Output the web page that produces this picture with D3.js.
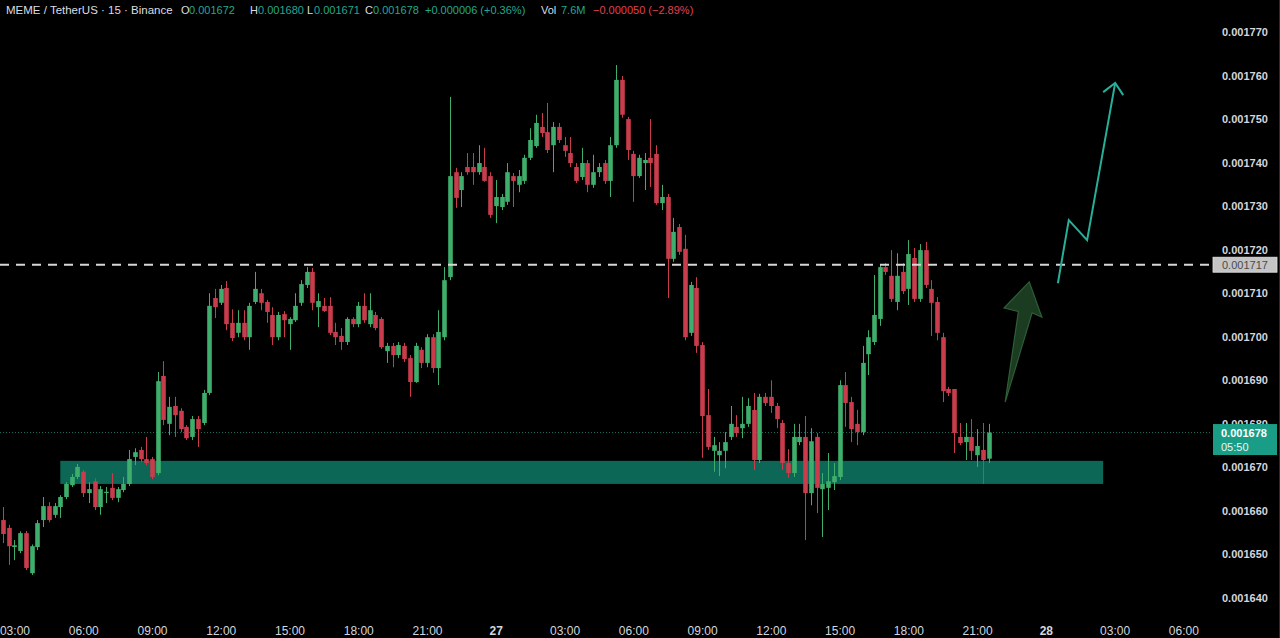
<!DOCTYPE html>
<html><head><meta charset="utf-8">
<script src="https://cdn.jsdelivr.net/npm/d3@7"></script>
<style>html,body{margin:0;padding:0;background:#000;overflow:hidden}svg{display:block}</style>
</head><body><svg id="c" width="1280" height="638"></svg>
<script>
// ---------- DATA ----------
const startTime = Date.UTC(2024, 10, 26, 2, 30); // first 15-min candle
const intervalMs = 15 * 60 * 1000;

const open = [0.0016579,0.0016561,0.0016517,0.0016508,0.0016549,0.0016457,0.0016517,0.0016579,0.0016611,0.0016591,
0.0016609,0.0016632,0.0016659,0.0016678,0.0016690,0.0016641,0.0016668,0.0016609,0.0016641,0.0016653,
0.0016630,0.0016648,0.0016662,0.0016724,0.0016740,0.0016719,0.0016719,0.0016687,0.0016910,0.0016800,
0.0016841,0.0016830,0.0016793,0.0016770,0.0016811,0.0016802,0.0016871,0.0017089,0.0017078,0.0017112,
0.0017032,0.0017009,0.0017032,0.0016999,0.0017080,0.0017100,0.0017080,0.0017050,0.0016999,0.0017052,
0.0017029,0.0017038,0.0017078,0.0017119,0.0017149,0.0017068,0.0017071,0.0017071,0.0017011,0.0017002,
0.0016988,0.0017041,0.0017029,0.0017071,0.0017029,0.0017050,0.0017041,0.0016967,0.0016979,0.0016958,
0.0016979,0.0016951,0.0016896,0.0016970,0.0016940,0.0016999,0.0016928,0.0016999,0.0017137,0.0017378,
0.0017337,0.0017390,0.0017390,0.0017378,0.0017390,0.0017369,0.0017300,0.0017298,0.0017310,0.0017369,
0.0017349,0.0017358,0.0017411,0.0017438,0.0017482,0.0017470,0.0017440,0.0017482,0.0017440,0.0017422,
0.0017390,0.0017367,0.0017399,0.0017349,0.0017378,0.0017399,0.0017358,0.0017440,0.0017590,0.0017500,
0.0017420,0.0017369,0.0017399,0.0017411,0.0017420,0.0017307,0.0017321,0.0017179,0.0017252,0.0017202,
0.0017009,0.0017112,0.0016981,0.0016820,0.0016738,0.0016728,0.0016738,0.0016770,0.0016793,0.0016790,
0.0016800,0.0016832,0.0016717,0.0016862,0.0016862,0.0016841,0.0016802,0.0016710,0.0016687,0.0016758,
0.0016770,0.0016641,0.0016770,0.0016650,0.0016653,0.0016666,0.0016678,0.0016889,0.0016850,0.0016800,
0.0016781,0.0016960,0.0016988,0.0017041,0.0017160,0.0017140,0.0017080,0.0017149,0.0017110,0.0017181,
0.0017087,0.0017199,0.0017110,0.0017080,0.0016999,0.0016880,0.0016880,0.0016770,0.0016758,0.0016770,
0.0016728,0.0016740,0.0016720];

const high = [0.0016609,0.0016568,0.0016533,0.0016553,0.0016554,0.0016523,0.0016579,0.0016632,0.0016620,0.0016618,
0.0016636,0.0016666,0.0016685,0.0016708,0.0016694,0.0016666,0.0016675,0.0016657,0.0016655,0.0016687,
0.0016655,0.0016678,0.0016740,0.0016744,0.0016747,0.0016770,0.0016724,0.0016919,0.0016944,0.0016862,
0.0016862,0.0016836,0.0016797,0.0016818,0.0016818,0.0016878,0.0017100,0.0017110,0.0017119,0.0017128,
0.0017063,0.0017061,0.0017061,0.0017078,0.0017149,0.0017110,0.0017085,0.0017068,0.0017057,0.0017059,
0.0017045,0.0017100,0.0017130,0.0017160,0.0017158,0.0017100,0.0017089,0.0017091,0.0017032,0.0017020,
0.0017045,0.0017045,0.0017080,0.0017100,0.0017100,0.0017057,0.0017045,0.0016986,0.0016986,0.0016988,
0.0016986,0.0016958,0.0016986,0.0016976,0.0017006,0.0017006,0.0017061,0.0017160,0.0017551,0.0017388,
0.0017378,0.0017422,0.0017422,0.0017440,0.0017434,0.0017378,0.0017360,0.0017328,0.0017399,0.0017376,
0.0017383,0.0017418,0.0017479,0.0017510,0.0017514,0.0017537,0.0017493,0.0017491,0.0017459,0.0017459,
0.0017399,0.0017434,0.0017406,0.0017418,0.0017399,0.0017406,0.0017459,0.0017624,0.0017599,0.0017505,
0.0017427,0.0017418,0.0017422,0.0017500,0.0017440,0.0017349,0.0017328,0.0017273,0.0017259,0.0017234,
0.0017126,0.0017137,0.0016988,0.0016880,0.0016770,0.0016758,0.0016781,0.0016841,0.0016820,0.0016862,
0.0016859,0.0016871,0.0016869,0.0016871,0.0016900,0.0016848,0.0016809,0.0016742,0.0016800,0.0016800,
0.0016818,0.0016790,0.0016779,0.0016687,0.0016733,0.0016710,0.0016900,0.0016919,0.0016862,0.0016832,
0.0016979,0.0017015,0.0017142,0.0017167,0.0017169,0.0017199,0.0017192,0.0017169,0.0017222,0.0017204,
0.0017213,0.0017218,0.0017130,0.0017091,0.0017009,0.0016885,0.0016880,0.0016802,0.0016802,0.0016811,
0.0016788,0.0016802,0.0016800];

const low = [0.0016526,0.0016476,0.0016487,0.0016503,0.0016464,0.0016453,0.0016510,0.0016563,0.0016574,0.0016584,
0.0016584,0.0016627,0.0016655,0.0016673,0.0016632,0.0016618,0.0016602,0.0016591,0.0016618,0.0016625,
0.0016620,0.0016643,0.0016657,0.0016705,0.0016712,0.0016705,0.0016673,0.0016682,0.0016797,0.0016774,
0.0016770,0.0016781,0.0016763,0.0016763,0.0016747,0.0016797,0.0016866,0.0017043,0.0017073,0.0017015,
0.0016990,0.0016999,0.0016992,0.0016970,0.0017075,0.0017061,0.0017032,0.0016981,0.0016992,0.0016999,
0.0016970,0.0017034,0.0017071,0.0017112,0.0017061,0.0017022,0.0017057,0.0017004,0.0016981,0.0016970,
0.0016981,0.0017022,0.0017022,0.0017032,0.0017022,0.0017015,0.0016972,0.0016940,0.0016930,0.0016951,
0.0016942,0.0016862,0.0016894,0.0016928,0.0016930,0.0016917,0.0016889,0.0016992,0.0017130,0.0017296,
0.0017298,0.0017372,0.0017349,0.0017372,0.0017356,0.0017273,0.0017261,0.0017291,0.0017303,0.0017298,
0.0017332,0.0017351,0.0017406,0.0017434,0.0017459,0.0017422,0.0017378,0.0017445,0.0017413,0.0017390,
0.0017353,0.0017360,0.0017332,0.0017342,0.0017367,0.0017351,0.0017321,0.0017434,0.0017503,0.0017406,
0.0017310,0.0017365,0.0017337,0.0017344,0.0017303,0.0017291,0.0017089,0.0017172,0.0017188,0.0016992,
0.0017002,0.0016963,0.0016722,0.0016740,0.0016690,0.0016680,0.0016698,0.0016763,0.0016770,0.0016767,
0.0016793,0.0016694,0.0016710,0.0016841,0.0016825,0.0016790,0.0016694,0.0016676,0.0016678,0.0016751,
0.0016533,0.0016613,0.0016595,0.0016540,0.0016602,0.0016648,0.0016671,0.0016793,0.0016758,0.0016751,
0.0016774,0.0016912,0.0016981,0.0017025,0.0017142,0.0017080,0.0017061,0.0017098,0.0017073,0.0017080,
0.0017080,0.0017112,0.0017002,0.0016992,0.0016850,0.0016864,0.0016733,0.0016751,0.0016717,0.0016717,
0.0016701,0.0016662,0.0016710];

const close = [0.0016547,0.0016519,0.0016521,0.0016549,0.0016469,0.0016519,0.0016572,0.0016611,0.0016579,0.0016611,
0.0016632,0.0016662,0.0016678,0.0016701,0.0016641,0.0016650,0.0016609,0.0016650,0.0016644,0.0016630,
0.0016650,0.0016662,0.0016719,0.0016735,0.0016719,0.0016710,0.0016678,0.0016898,0.0016809,0.0016839,
0.0016820,0.0016788,0.0016767,0.0016811,0.0016788,0.0016871,0.0017071,0.0017068,0.0017110,0.0017029,
0.0016997,0.0017032,0.0016999,0.0017071,0.0017110,0.0017078,0.0017057,0.0016999,0.0017050,0.0017038,
0.0017041,0.0017071,0.0017121,0.0017149,0.0017078,0.0017082,0.0017059,0.0017009,0.0016999,0.0016988,
0.0017041,0.0017029,0.0017071,0.0017038,0.0017061,0.0017020,0.0016976,0.0016979,0.0016958,0.0016981,
0.0016949,0.0016896,0.0016979,0.0016940,0.0016999,0.0016928,0.0017011,0.0017130,0.0017369,0.0017319,
0.0017369,0.0017378,0.0017378,0.0017399,0.0017358,0.0017280,0.0017321,0.0017321,0.0017378,0.0017358,
0.0017369,0.0017411,0.0017452,0.0017491,0.0017468,0.0017429,0.0017482,0.0017452,0.0017427,0.0017399,
0.0017358,0.0017399,0.0017349,0.0017378,0.0017390,0.0017358,0.0017440,0.0017590,0.0017510,0.0017429,
0.0017369,0.0017411,0.0017406,0.0017399,0.0017307,0.0017321,0.0017179,0.0017241,0.0017195,0.0016999,
0.0017119,0.0016979,0.0016818,0.0016747,0.0016751,0.0016738,0.0016758,0.0016800,0.0016779,0.0016800,
0.0016841,0.0016717,0.0016862,0.0016848,0.0016841,0.0016811,0.0016710,0.0016687,0.0016770,0.0016770,
0.0016641,0.0016760,0.0016653,0.0016662,0.0016668,0.0016680,0.0016889,0.0016848,0.0016788,0.0016781,
0.0016940,0.0016999,0.0017050,0.0017160,0.0017149,0.0017087,0.0017140,0.0017105,0.0017190,0.0017087,
0.0017199,0.0017119,0.0017078,0.0017009,0.0016875,0.0016871,0.0016779,0.0016756,0.0016770,0.0016738,
0.0016749,0.0016717,0.0016780];

const priceTicks = [0.00164,0.00165,0.00166,0.00167,0.00168,0.00169,0.00170,0.00171,0.00172,0.00173,0.00174,0.00175,0.00176,0.00177];
const timeTickLabels = ["03:00","06:00","09:00","12:00","15:00","18:00","21:00","27","03:00","06:00","09:00","12:00","15:00","18:00","21:00","28","03:00","06:00"];
const firstTickTime = Date.UTC(2024, 10, 26, 3, 0);
const tickStepMs = 3 * 60 * 60 * 1000;

const resistanceLevel = 0.00171655;
const resistanceLabel = "0.001717";
const lastPrice = 0.001678;
const countdown = "05:50";
const zoneStartIdx = 10, zoneEndIdx = 192, zoneTop = 0.0016715, zoneBottom = 0.0016662;
// hand-drawn annotations in (candle index, price)
const zigzagIdx   = [184.1, 186.0, 189.2, 194.1];
const zigzagPrice = [0.0017123, 0.0017268, 0.0017222, 0.0017583];
const zigHeadIdx   = [192.0, 194.1, 195.5];
const zigHeadPrice = [0.0017562, 0.0017583, 0.0017555];
const arrowIdx   = [174.9, 177.2, 174.7, 179.1, 181.3, 179.6];
const arrowPrice = [0.0016850, 0.0017058, 0.0017066, 0.0017126, 0.0017045, 0.0017055];

const headerParts = [
  {t:"MEME / TetherUS · 15 · Binance", c:"label"},
  {t:"O", c:"label"}, {t:"0.001672", c:"up"},
  {t:"H", c:"label"}, {t:"0.001680", c:"up"},
  {t:"L", c:"label"}, {t:"0.001671", c:"up"},
  {t:"C", c:"label"}, {t:"0.001678", c:"up"},
  {t:"+0.000006 (+0.36%)", c:"up"},
  {t:"Vol", c:"label"}, {t:"7.6M", c:"up"},
  {t:"−0.000050 (−2.89%)", c:"down"}
];

// ---------- DRAW ----------
const W = 1280, H = 638;
const svg = d3.select("#c");
svg.append("rect").attr("width", W).attr("height", H).attr("fill", "#000");

const step = 5.73;
const nSlots = 211;
const x = d3.scaleUtc().domain([new Date(startTime), new Date(startTime + nSlots * intervalMs)]).range([3, 3 + nSlots * step]);
const y = d3.scaleLinear().domain([0.00164, 0.00177]).range([598, 32]);
const tOf = i => new Date(startTime + i * intervalMs);
const FONT = "Liberation Sans, Arial, sans-serif";

const green = "#3fae6c", red = "#c83c4c";

// zone
svg.append("rect")
  .attr("x", x(tOf(zoneStartIdx))).attr("width", x(tOf(zoneEndIdx)) - x(tOf(zoneStartIdx)))
  .attr("y", y(zoneTop)).attr("height", y(zoneBottom) - y(zoneTop))
  .attr("fill", "#0c6757");

// last price dotted line
svg.append("line").attr("x1", 0).attr("x2", 1212).attr("y1", y(lastPrice)).attr("y2", y(lastPrice))
  .attr("stroke", "#1f8f7b").attr("stroke-width", 1).attr("stroke-dasharray", "1,2").attr("opacity", 0.8);

// candles
const candles = open.map((o, i) => ({i, o, h: high[i], l: low[i], c: close[i]}));
const g = svg.append("g");
g.selectAll("line.w").data(candles).join("line")
  .attr("x1", d => Math.round(x(tOf(d.i))) + 0.5).attr("x2", d => Math.round(x(tOf(d.i))) + 0.5)
  .attr("y1", d => y(d.h)).attr("y2", d => y(d.l))
  .attr("stroke", d => d.c >= d.o ? green : red).attr("stroke-width", 1);
g.selectAll("rect.b").data(candles).join("rect")
  .attr("x", d => Math.round(x(tOf(d.i))) + 0.5 - 2.3).attr("width", 4.6)
  .attr("y", d => y(Math.max(d.o, d.c)))
  .attr("height", d => Math.max(1, Math.abs(y(d.o) - y(d.c))))
  .attr("fill", d => d.c >= d.o ? green : red);

// resistance dashed line
svg.append("line").attr("x1", 0).attr("x2", 1210).attr("y1", y(resistanceLevel)).attr("y2", y(resistanceLevel))
  .attr("stroke", "#d6d6d6").attr("stroke-width", 2).attr("stroke-dasharray", "9,7");

// dark green arrow
const pts = arrowIdx.map((v, k) => [x(tOf(v)), y(arrowPrice[k])]);
svg.append("path").attr("d", d3.line()(pts) + "Z")
  .attr("fill", "#1f4226").attr("fill-opacity", 0.9).attr("stroke", "#2e5e35").attr("stroke-width", 1.2);

// teal zigzag
const zz = zigzagIdx.map((v, k) => [x(tOf(v)), y(zigzagPrice[k])]);
svg.append("path").attr("d", d3.line()(zz)).attr("fill", "none").attr("stroke", "#26b09a").attr("stroke-width", 2).attr("stroke-linejoin", "miter");
const zh = zigHeadIdx.map((v, k) => [x(tOf(v)), y(zigHeadPrice[k])]);
svg.append("path").attr("d", d3.line()(zh)).attr("fill", "none").attr("stroke", "#26b09a").attr("stroke-width", 2);

// right price axis
const yAxis = d3.axisRight(y).tickValues(priceTicks).tickFormat(d3.format(".6f")).tickSize(0).tickPadding(0);
const ya = svg.append("g").attr("transform", "translate(1222,0)").call(yAxis);
ya.select(".domain").remove();
ya.selectAll("text").attr("fill", "#d4d6dc").attr("font-family", FONT)
  .attr("font-size", 11).attr("font-weight", "bold");
svg.append("line").attr("x1", 1279.5).attr("x2", 1279.5).attr("y1", 0).attr("y2", H).attr("stroke", "#2a2c33");

// resistance label
const ry = y(resistanceLevel);
svg.append("rect").attr("x", 1213).attr("y", ry - 7.5).attr("width", 64).attr("height", 15)
  .attr("fill", "#c4c4c4").attr("stroke", "#e4e4e4").attr("stroke-width", 0.8);
svg.append("text").attr("x", 1222).attr("y", ry + 4).text(resistanceLabel)
  .attr("fill", "#4a4a4a").attr("font-family", FONT).attr("font-size", 11);

// last price label
const ly = y(lastPrice);
svg.append("rect").attr("x", 1213).attr("y", ly - 8.5).attr("width", 64).attr("height", 31)
  .attr("fill", "#1a9d86");
svg.append("text").attr("x", 1221).attr("y", ly + 4).text(d3.format(".6f")(lastPrice))
  .attr("fill", "#ffffff").attr("font-family", FONT).attr("font-size", 11).attr("font-weight", "bold");
svg.append("text").attr("x", 1221).attr("y", ly + 18).text(countdown)
  .attr("fill", "#e8f6f2").attr("font-family", FONT).attr("font-size", 11);

// bottom time axis
const tickTimes = timeTickLabels.map((_, k) => new Date(firstTickTime + k * tickStepMs));
const xAxis = d3.axisBottom(x).tickValues(tickTimes).tickFormat((d, k) => timeTickLabels[k]).tickSize(0).tickPadding(0);
const xa = svg.append("g").attr("transform", "translate(0,626)").call(xAxis);
xa.select(".domain").remove();
xa.selectAll("text").attr("fill", "#d4d6dc").attr("font-family", FONT)
  .attr("font-size", 12).attr("dy", "0.71em")
  .attr("font-weight", (d, k) => timeTickLabels[k].length === 2 ? "bold" : "normal");

// header
const headerX = [6, 181, 189, 250, 258, 307, 314, 365, 373, 425, 541, 561, 593];
const colorOf = {label: "#dcdde2", up: "#22a88f", down: "#e0414f"};
svg.append("g").selectAll("text").data(headerParts).join("text")
  .attr("x", (d, k) => headerX[k]).attr("y", 14)
  .attr("fill", d => colorOf[d.c])
  .attr("font-family", FONT)
  .attr("font-size", (d, k) => k === 0 ? 11.5 : 11)
  .text(d => d.t);
</script></body></html>
